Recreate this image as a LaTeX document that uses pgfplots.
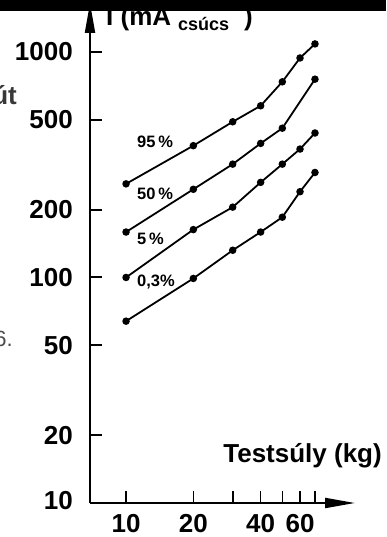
\documentclass[border=0pt]{standalone}
\usepackage{pgfplots}
\pgfplotsset{compat=1.18}
\usetikzlibrary{arrows.meta}
\usepackage{fontspec}
\setmainfont{Liberation Sans}
\newcommand\tickfont{\bfseries\fontsize{26}{26}\selectfont}
\newcommand\pctfont{\bfseries\fontsize{16.5}{16.5}\selectfont}
\begin{document}
\begin{tikzpicture}[x=1pt,y=1pt]
\path[use as bounding box] (0,0) rectangle (386,537);
\begin{axis}[
  at={(90pt,34pt)}, anchor=south west,
  scale only axis, width=265pt, height=500pt,
  xmode=log, ymode=log,
  xmin=6.90, xmax=105.7, ymin=10, ymax=1648,
  axis lines=left,
  x axis line style={line width=2pt, -{Triangle[length=30pt,width=10pt]}},
  y axis line style={line width=2pt, -{Triangle[length=30pt,width=10pt]}},
  tick align=inside,
  major tick length=12pt,
  xtick={10,20,30,40,50,60,70},
  xticklabels={10,20,{},40,{},60,{}},
  ytick={10,20,50,100,200,500,1000},
  yticklabels={\raisebox{5pt}{10},20,50,100,200,500,1000},
  minor xtick={}, minor ytick={},
  x tick style={line width=1.6pt, black},
  y tick style={line width=2pt, black},
  xticklabel style={font=\tickfont, anchor=north, inner sep=0pt, yshift=-11pt},
  yticklabel style={font=\tickfont, anchor=east, inner sep=0pt, xshift=-17pt},
  clip=false,
]
\addplot[black, line width=1.8pt, mark=*, mark size=2.8pt] coordinates {
  (10,260) (20,384) (30,490) (40,577) (50,737) (60,940) (70,1085)};
\addplot[black, line width=1.8pt, mark=*, mark size=2.8pt] coordinates {
  (10,159) (20,246) (30,318) (40,393) (50,459) (70,757)};
\addplot[black, line width=1.8pt, mark=*, mark size=2.8pt] coordinates {
  (10,100) (20,163) (30,205) (40,264) (50,318) (60,371) (70,437)};
\addplot[black, line width=1.8pt, mark=*, mark size=2.8pt] coordinates {
  (10,64) (20,99) (30,132) (40,159) (50,185) (60,240) (70,292)};
\end{axis}
% series labels
\node[anchor=base west, inner sep=0pt] at (137,389) {\pctfont 95\,\%};
\node[anchor=base west, inner sep=0pt] at (137,337) {\pctfont 50\,\%};
\node[anchor=base west, inner sep=0pt] at (137,292) {\pctfont 5\,\%};
\node[anchor=base west, inner sep=0pt] at (137,250) {\pctfont 0,3\%};
% axis titles
\node[anchor=base east, inner sep=0pt] at (382,74) {\tickfont Testsúly (kg)};
\node[anchor=base west, inner sep=0pt] at (106,511) {\tickfont I (mA\hspace{7pt}\raisebox{-5pt}{\fontsize{18}{18}\selectfont csúcs}\hspace{15pt})};
% cropped slide remnants
\node[anchor=base east, inner sep=0pt, text=black!78] at (17,432) {\tickfont út};
\node[anchor=base east, inner sep=0pt, text=black!70] at (13,190) {\fontsize{22}{22}\selectfont 6.};
\fill[black] (0,526) rectangle (386,537);
\end{tikzpicture}
\end{document}
